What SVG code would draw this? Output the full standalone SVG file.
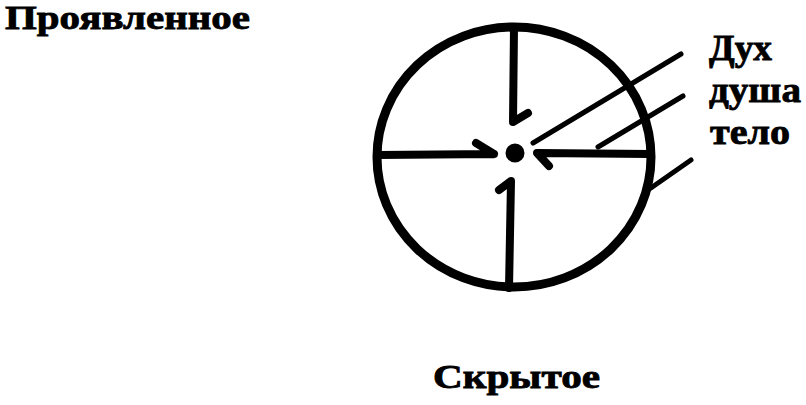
<svg xmlns="http://www.w3.org/2000/svg" width="806" height="405" viewBox="0 0 806 405">
<style>
.t{font-family:"Liberation Serif","Times New Roman",serif;font-weight:bold;fill:#000;stroke:#000;stroke-width:0.8}
.s{fill:none;stroke:#000;stroke-linecap:round;stroke-linejoin:round}
</style>
<rect width="806" height="405" fill="#fff"/>
<g id="circle"><ellipse class="s" cx="514" cy="157" rx="137" ry="130" stroke-width="9"/></g>
<g id="center"><circle cx="515" cy="153" r="9.5" fill="#000"/></g>
<g id="connectors" class="s">
<path d="M514 27 L513 122 L528 113" stroke-width="8"/>
<path d="M378 155 L494 154 M476 143 L494 154" stroke-width="8"/>
<path d="M650 154 L537 153 L549 166" stroke-width="8"/>
<path d="M509 288 L511 181 L499 190" stroke-width="8"/>
<path d="M533 143 L681 54" stroke-width="5"/>
<path d="M598 147 L683 96" stroke-width="5"/>
<path d="M648 190 L691 160" stroke-width="5"/>
</g>
<g id="labels">
<text class="t" x="5" y="29" font-size="33" textLength="245" lengthAdjust="spacingAndGlyphs">Проявленное</text>
<text class="t" x="433" y="388" font-size="33" textLength="167" lengthAdjust="spacingAndGlyphs">Скрытое</text>
<text class="t" x="709" y="60" font-size="36" textLength="63" lengthAdjust="spacingAndGlyphs">Дух</text>
<text class="t" x="709" y="102" font-size="36" textLength="92" lengthAdjust="spacingAndGlyphs">душа</text>
<text class="t" x="710" y="144" font-size="36" textLength="80" lengthAdjust="spacingAndGlyphs">тело</text>
</g>
</svg>
